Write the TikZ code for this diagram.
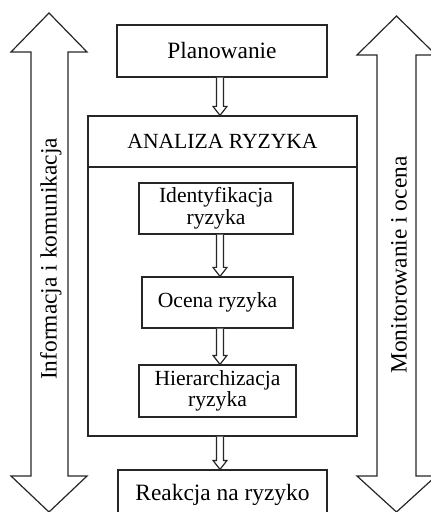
\documentclass[tikz,border=0pt]{standalone}
\usepackage{fontspec}
\setmainfont{Liberation Serif}
\usetikzlibrary{calc, positioning}
\newcommand{\pustastrzalka}[2]{%
\draw[linia, fill=white] ($(#1.south -| os)+(-3.5,0)$) -- ($(#2.north -| os)+(-3.5,-9)$) -- ($(#2.north -| os)+(-7,-9)$) -- (#2.north -| os) -- ($(#2.north -| os)+(7,-9)$) -- ($(#2.north -| os)+(3.5,-9)$) -- ($(#1.south -| os)+(3.5,0)$);}

\begin{document}
\begin{tikzpicture}[x=0.5pt,y=-0.5pt,
  linia/.style={draw=black!85, line width=0.6pt},
  maly/.style={linia, inner sep=0pt, align=center, font=\fontsize{10.8}{9.3}\selectfont},
  duzy/.style={linia, inner sep=0pt, align=center, font=\fontsize{11.7}{14}\selectfont}]
\useasboundingbox (0,0) rectangle (431,512);
\clip (0,0) rectangle (431,512);
\coordinate (os) at (220,0);
% boczne strzalki
\draw[linia] (31,52) -- (11,52) -- (49,13) -- (87,52) -- (68,52) -- (68,476) -- (87,476) -- (49,512) -- (11,476) -- (31,476) -- cycle;
\draw[linia] (377,55) -- (357,55) -- (396.5,16) -- (436,55) -- (416,55) -- (416,476) -- (436,476) -- (396.5,512) -- (357,476) -- (377,476) -- cycle;
\node[font=\fontsize{11.7}{14}\selectfont, rotate=90] (info) at (51,259) {Informacja i komunikacja};
\node[font=\fontsize{11.7}{14}\selectfont, rotate=90] (monit) at (399,265) {Monitorowanie i ocena};
% glowne bloki
\node[duzy, minimum width=105pt, minimum height=26pt] (plan) at (222,51) {Planowanie};
\node[linia, minimum width=134.5pt, minimum height=160pt] (ramka) at (222.5,276) {};
\node[maly, minimum width=134.5pt, minimum height=25.5pt] (analiza) at (222.5,141.5) {ANALIZA RYZYKA};
\node[maly, minimum width=77pt, minimum height=25.5pt] (ident) at (216,208.5) {Identyfikacja\\ryzyka};
\node[maly, minimum width=75.5pt, minimum height=25.5pt] (ocena) at (217.5,302.5) {Ocena ryzyka};
\node[maly, minimum width=78.5pt, minimum height=26pt] (hier) at (217.5,391) {Hierarchizacja\\ryzyka};
\node[duzy, minimum width=104.5pt, minimum height=26pt] (reakcja) at (222.5,496) {};
\node[font=\fontsize{11.7}{14}\selectfont] (reakcjatekst) at (222.5,495) {Reakcja na ryzyko};
% strzalki
\pustastrzalka{plan}{analiza}
\pustastrzalka{ident}{ocena}
\pustastrzalka{ocena}{hier}
\pustastrzalka{ramka}{reakcja}
\end{tikzpicture}
\end{document}
